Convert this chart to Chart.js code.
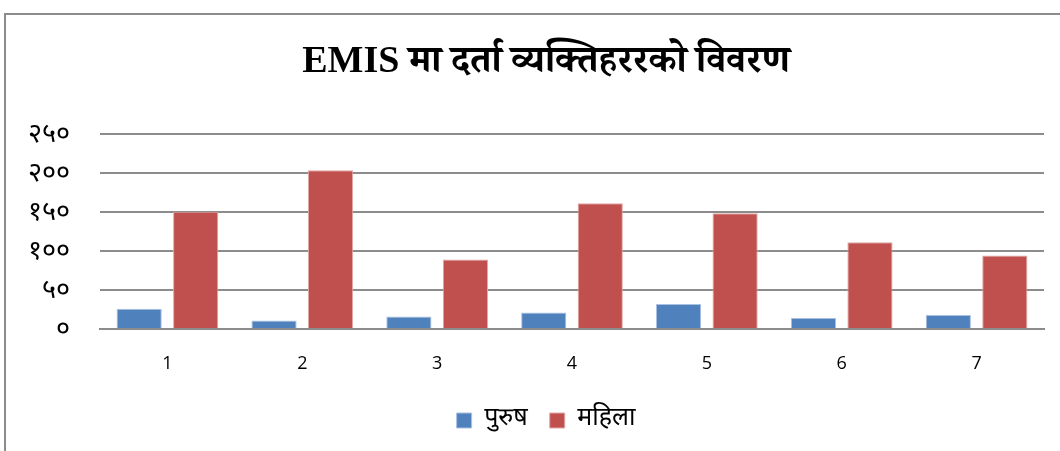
<!DOCTYPE html>
<html>
<head>
<meta charset="utf-8">
<script src="https://cdn.jsdelivr.net/npm/chart.js@4"></script>
<style>
    html, body { margin: 0; padding: 0; background: #fff; }
    #wrap { position: relative; width: 1060px; height: 451px; overflow: hidden; }
    #frame { position: absolute; left: 4px; top: 13px; width: 1200px; height: 600px;
             border-top: 2px solid #8c8c8c; border-left: 2px solid #8c8c8c; }
    canvas { position: absolute; left: 0; top: 0; }
</style>
</head>
<body>
<div id="wrap">
    <div id="frame"></div>
    <canvas id="chart" width="1060" height="451"></canvas>
</div>
<script>
    const chartTitle = "EMIS मा दर्ता व्यक्तिहररको विवरण";
    const categories = ["1", "2", "3", "4", "5", "6", "7"];
    const seriesNames = ["पुरुष", "महिला"];
    const maleValues = [26, 11, 16, 21, 32, 14, 18];
    const femaleValues = [150, 203, 89, 161, 148, 111, 94];
    const tickValues = [0, 50, 100, 150, 200, 250];
    const devanagariDigits = ["०", "१", "२", "३", "४", "५", "६", "७", "८", "९"];

    function toDevanagari(n) {
        return String(n).split("").map(d => devanagariDigits[+d] || d).join("");
    }

    const deva = '"Noto Sans Devanagari", "Lohit Devanagari", "Noto Sans", sans-serif';

    const ctx = document.getElementById("chart").getContext("2d");
    new Chart(ctx, {
        type: "bar",
        data: {
            labels: categories,
            datasets: [
                {
                    label: seriesNames[0],
                    data: maleValues,
                    backgroundColor: "#4F81BD",
                    borderColor: "#a9c1e0",
                    borderWidth: 1
                },
                {
                    label: seriesNames[1],
                    data: femaleValues,
                    backgroundColor: "#C0504D",
                    borderColor: "#e0a8a6",
                    borderWidth: 1
                }
            ]
        },
        options: {
            responsive: false,
            animation: false,
            layout: { padding: { left: 48, right: 16, top: 0, bottom: 8 } },
            datasets: { bar: { categoryPercentage: 0.838, barPercentage: 0.8 } },
            plugins: {
                title: {
                    display: true,
                    text: chartTitle,
                    color: "#000",
                    font: { family: '"Liberation Serif", "Noto Serif Devanagari", ' + deva, size: 38, weight: "bold" },
                    padding: { top: 39, bottom: 49 }
                },
                legend: {
                    position: "bottom",
                    labels: {
                        color: "#000",
                        boxWidth: 15,
                        boxHeight: 15,
                        padding: 22,
                        font: { family: deva, size: 25 }
                    }
                },
                tooltip: { enabled: false }
            },
            scales: {
                x: {
                    grid: { display: false, drawTicks: false },
                    border: { display: true, color: "#8c8c8c", width: 2 },
                    ticks: {
                        color: "#000",
                        padding: 24,
                        font: { family: '"Open Sans", "Liberation Sans", sans-serif', size: 18 }
                    },
                    afterFit: function(scale) { scale.height = 57; }
                },
                y: {
                    min: 0,
                    max: 250,
                    afterBuildTicks: function(scale) {
                        scale.ticks = tickValues.map(v => ({ value: v }));
                    },
                    grid: { color: "#8c8c8c", lineWidth: 2, drawTicks: false },
                    border: { display: false },
                    ticks: {
                        color: "#000",
                        mirror: true,
                        crossAlign: "far",
                        padding: -72,
                        labelOffset: 3,
                        font: { family: deva, size: 27 },
                        callback: value => toDevanagari(value)
                    },
                    afterFit: function(scale) { scale.width = 52; }
                }
            }
        }
    });
</script>
</body>
</html>
